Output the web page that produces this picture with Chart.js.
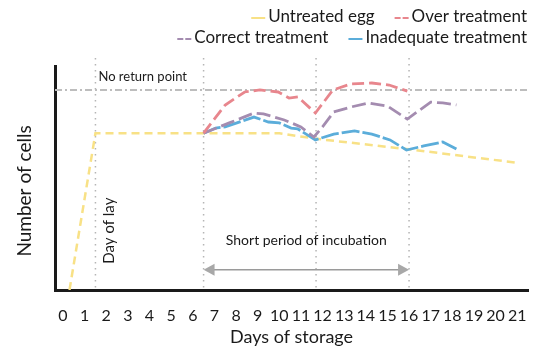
<!DOCTYPE html>
<html>
<head>
<meta charset="utf-8">
<script src="https://cdn.jsdelivr.net/npm/chart.js@4.4.0/dist/chart.umd.min.js"></script>
<style>
  html, body { margin: 0; padding: 0; background: #fff; }
</style>
</head>
<body>
<canvas id="eggChart" width="552" height="351"></canvas>
<script>
// x axis: days of storage
const dayTicks = [0, 1, 2, 3, 4, 5, 6, 7, 8, 9, 10, 11, 12, 13, 14, 15, 16, 17, 18, 19, 20, 21];
const xMin = -0.37;
const xMax = 21.5;

// Untreated egg
const untreatedDays = [0.3, 1.5, 10, 11.7, 16, 21];
const untreatedCells = [0, 70, 70, 67.5, 62.8, 56.8];

// Over treatment
const overDays = [6.5, 7.5, 8.4, 9.1, 9.95, 10.45, 10.86, 11.67, 12.48, 13.32, 14.28, 15.08, 15.92];
const overCells = [70, 82.6, 88.4, 89.3, 88.4, 85.7, 86.2, 79, 89.3, 92, 92.4, 91.5, 88.8];

// Correct treatment
const correctDays = [6.5, 7.69, 8.83, 9.27, 10.23, 11, 11.6, 12, 12.52, 13.32, 14.12, 15, 15.92, 17, 17.56, 18.19];
const correctCells = [70, 74.6, 79, 78.6, 75.9, 72.8, 68.3, 72.8, 79.5, 81.7, 83.5, 82.1, 76.3, 83.9, 83.5, 82.6];

// Inadequate treatment
const inadequateDays = [6.5, 7.06, 7.5, 8.83, 9.5, 10, 10.55, 10.86, 11.67, 12.52, 13.48, 14.28, 15.12, 15.88, 16.68, 17.56, 18.19];
const inadequateCells = [70, 72.3, 72.8, 77.2, 75, 74.6, 72.3, 71.9, 67, 69.6, 71, 69.6, 67, 62.5, 64.3, 66.1, 62.9];

// reference marks
const noReturnLevel = 89.3;
const markerDays = [1.5, 6.5, 11.7, 16];
const dayOfLay = 1.5;
const incubationStart = 6.5;
const incubationEnd = 16;

function toPoints(xs, ys) {
  return xs.map((x, i) => ({ x: x, y: ys[i] }));
}

const FONT = "Lato, 'DejaVu Sans', sans-serif";

const overlay = {
  id: "overlay",
  beforeDatasetsDraw(chart) {
    const { ctx, chartArea, scales } = chart;
    ctx.save();
    ctx.strokeStyle = "#b5b5b5";
    ctx.lineWidth = 1.5;
    ctx.setLineDash([1.5, 4.5]);
    markerDays.forEach((d) => {
      const x = scales.x.getPixelForValue(d);
      ctx.beginPath();
      ctx.moveTo(x, chartArea.top - 8);
      ctx.lineTo(x, chartArea.bottom - 2);
      ctx.stroke();
    });
    ctx.restore();
  },
  afterDraw(chart) {
    const { ctx, chartArea, scales } = chart;
    const xs = scales.x;
    const ys = scales.y;
    ctx.save();
    ctx.fillStyle = "#1a1a1a";
    ctx.textBaseline = "middle";

    // no return point label
    ctx.font = "13px " + FONT;
    ctx.textAlign = "left";
    ctx.fillText("No return point", xs.getPixelForValue(dayOfLay) + 3, ys.getPixelForValue(noReturnLevel) - 13);

    // incubation label + arrow
    const x1 = xs.getPixelForValue(incubationStart);
    const x2 = xs.getPixelForValue(incubationEnd);
    ctx.font = "14px " + FONT;
    ctx.textAlign = "center";
    ctx.fillText("Short period of incubation", (x1 + x2) / 2, ys.getPixelForValue(22.3));
    const ay = ys.getPixelForValue(9);
    ctx.strokeStyle = "#9a9a9a";
    ctx.fillStyle = "#a8a8a8";
    ctx.lineWidth = 1.5;
    ctx.beginPath();
    ctx.moveTo(x1 + 8, ay);
    ctx.lineTo(x2 - 8, ay);
    ctx.stroke();
    ctx.beginPath();
    ctx.moveTo(x1, ay);
    ctx.lineTo(x1 + 11, ay - 6);
    ctx.lineTo(x1 + 11, ay + 6);
    ctx.closePath();
    ctx.fill();
    ctx.beginPath();
    ctx.moveTo(x2, ay);
    ctx.lineTo(x2 - 11, ay - 6);
    ctx.lineTo(x2 - 11, ay + 6);
    ctx.closePath();
    ctx.fill();

    // day of lay (vertical)
    ctx.fillStyle = "#1a1a1a";
    ctx.font = "15px " + FONT;
    ctx.save();
    ctx.translate(xs.getPixelForValue(dayOfLay) + 14, ys.getPixelForValue(26.5));
    ctx.rotate(-Math.PI / 2);
    ctx.textAlign = "center";
    ctx.fillText("Day of lay", 0, 0);
    ctx.restore();

    // y axis title
    ctx.font = "19px " + FONT;
    ctx.save();
    ctx.translate(25, (chartArea.top + chartArea.bottom) / 2 + 13);
    ctx.rotate(-Math.PI / 2);
    ctx.textAlign = "center";
    ctx.fillText("Number of cells", 0, 0);
    ctx.restore();

    // legend, two right-aligned rows
    const rows = [[0, 1], [2, 3]];
    ctx.font = "17px " + FONT;
    ctx.textAlign = "left";
    rows.forEach((row, r) => {
      const y = 17 + r * 21;
      let x = chart.width - 25;
      for (let k = row.length - 1; k >= 0; k--) {
        const ds = chart.data.datasets[row[k]];
        const w = ctx.measureText(ds.label).width;
        x -= w;
        ctx.fillStyle = "#1a1a1a";
        ctx.fillText(ds.label, x, y);
        x -= 3;
        ctx.strokeStyle = ds.borderColor;
        ctx.lineWidth = 2;
        ctx.setLineDash(ds.legendDash);
        ctx.beginPath();
        ctx.moveTo(x - 14, y + 1);
        ctx.lineTo(x, y + 1);
        ctx.stroke();
        ctx.setLineDash([]);
        x -= 14 + 20;
      }
    });
    ctx.restore();
  },
};

const ctx = document.getElementById("eggChart").getContext("2d");
new Chart(ctx, {
  type: "line",
  data: {
    datasets: [
      {
        label: "Untreated egg",
        data: toPoints(untreatedDays, untreatedCells),
        borderColor: "#f8e186",
        borderDash: [8, 5],
        legendDash: [],
        borderWidth: 2.5,
        order: 4,
      },
      {
        label: "Over treatment",
        data: toPoints(overDays, overCells),
        borderColor: "#e8868d",
        borderDash: [12, 5],
        legendDash: [6, 2],
        borderWidth: 2.8,
        order: 1,
      },
      {
        label: "Correct treatment",
        data: toPoints(correctDays, correctCells),
        borderColor: "#a48cb0",
        borderDash: [14, 5],
        legendDash: [6, 2],
        borderWidth: 2.8,
        order: 2,
      },
      {
        label: "Inadequate treatment",
        data: toPoints(inadequateDays, inadequateCells),
        borderColor: "#5badda",
        borderDash: [18, 3],
        legendDash: [],
        borderWidth: 2.8,
        order: 3,
      },
      {
        label: "No return point",
        data: toPoints([xMin, xMax], [noReturnLevel, noReturnLevel]),
        borderColor: "#bdbdbd",
        borderDash: [7, 3, 2, 3],
        legendDash: [],
        borderWidth: 2,
        order: 5,
      },
    ],
  },
  options: {
    responsive: false,
    animation: false,
    elements: {
      point: { radius: 0 },
      line: { tension: 0, fill: false },
    },
    layout: {
      padding: { top: 66, right: 24, left: 0, bottom: 0 },
    },
    scales: {
      x: {
        type: "linear",
        min: xMin,
        max: xMax,
        afterBuildTicks: (scale) => {
          scale.ticks = dayTicks.map((v) => ({ value: v }));
        },
        afterFit: (scale) => {
          scale.height = 61;
        },
        grid: { display: false },
        border: { color: "#1a1a1a", width: 3 },
        ticks: {
          color: "#1a1a1a",
          font: { family: FONT, size: 16 },
          padding: 8,
          maxRotation: 0,
          autoSkip: false,
        },
        title: {
          display: true,
          text: "Days of storage",
          color: "#1a1a1a",
          font: { family: FONT, size: 18 },
          padding: { top: 4, bottom: 3 },
        },
      },
      y: {
        min: 0,
        max: 100,
        afterFit: (scale) => {
          scale.width = 55;
        },
        grid: { display: false },
        border: { color: "#1a1a1a", width: 3 },
        ticks: { display: false },
      },
    },
    plugins: {
      legend: { display: false },
      tooltip: { enabled: false },
    },
  },
  plugins: [overlay],
});
</script>
</body>
</html>
